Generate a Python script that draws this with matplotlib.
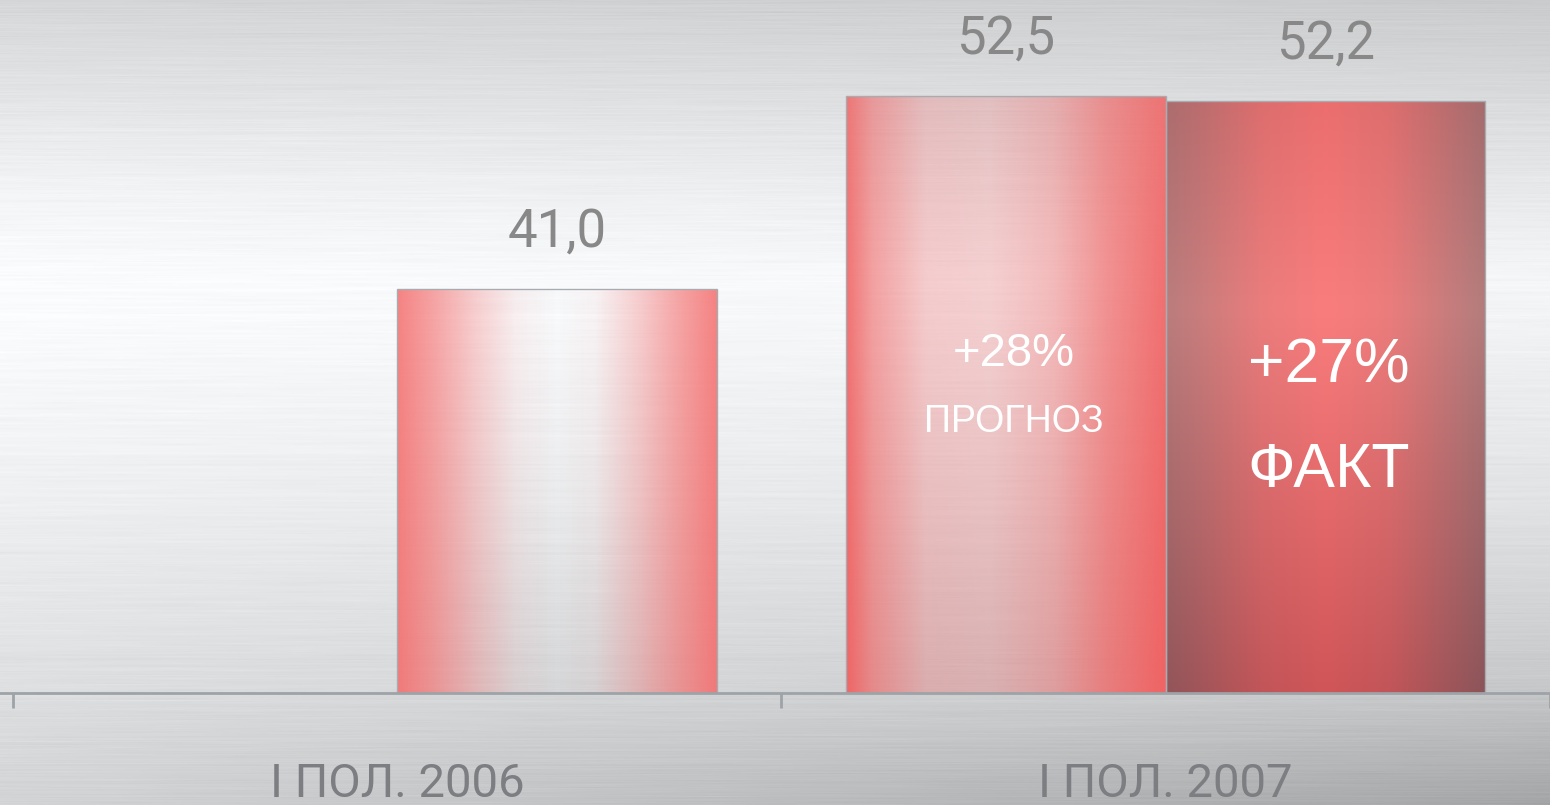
import numpy as np
import matplotlib
matplotlib.use("Agg")
import matplotlib.pyplot as plt

# данные
categories = ["I ПОЛ. 2006", "I ПОЛ. 2007"]
bar_cats = [0, 1, 1]
bar_slots = [1, 0, 1]          # 0 - левый слот, 1 - правый слот
bar_values = [41.0, 52.5, 52.2]
bar_labels = ["41,0", "52,5", "52,2"]
bar_styles = ["light", "forecast", "fact"]

W, H = 1550, 805
fig = plt.figure(figsize=(W / 100, H / 100), dpi=100)

# фон "шлифованный металл"
def profile(ys, keys, vals):
    return np.interp(ys, keys, vals)

ys = np.arange(H)
left = profile(ys, [0, 100, 200, 280, 350, 500, 690, 805], [215, 230, 246, 253, 251, 240, 224, 212])
right = profile(ys, [0, 120, 280, 500, 690, 805], [203, 222, 247, 227, 200, 165])
xs = np.linspace(0, 1, W)
base = left[:, None] * (1 - xs[None, :]) + right[:, None] * xs[None, :]
rng = np.random.default_rng(3)
coarse = rng.normal(0, 1, size=(H, W // 60 + 2))
streak = np.empty((H, W))
cx = np.linspace(0, coarse.shape[1] - 1, W)
for i in range(H):
    streak[i] = np.interp(cx, np.arange(coarse.shape[1]), coarse[i])
streak = 0.6 * streak + 0.4 * np.repeat(rng.normal(0, 1, size=(H, 1)), W, axis=1)
v = base + 2.6 * streak
bg = np.stack([v - 2, v - 0.5, v + 1], axis=-1)
bg = np.clip(bg, 0, 255) / 255.0

ax_bg = fig.add_axes([0, 0, 1, 1])
ax_bg.imshow(bg, aspect="auto", interpolation="bilinear")
ax_bg.axis("off")

# основная ось
base_px = H - 693
ax = fig.add_axes([0, base_px / H, 1, 693 / H])
ax.patch.set_alpha(0)
y0, y1 = 16.93, 16.93 + 693 / 16.78
x0, x1 = -0.5 - 13 / 772, 0.5 + (W - 785) / 772
slot_w = 0.416

def bar_rgba(style, nh=200, nw=200):
    u = np.linspace(0, 1, nw)
    t = np.linspace(0, 1, nh)[:, None]   # 0 - верх, 1 - низ
    img = np.zeros((nh, nw, 4))
    if style == "light":
        a = np.interp(u, [0, 0.12, 0.25, 0.37, 0.5, 0.62, 0.75, 0.88, 1],
                      [0.85, 0.6, 0.3, 0.08, 0.0, 0.05, 0.3, 0.6, 0.85])
        img[..., 0] = 245 / 255
        img[..., 1] = 110 / 255
        img[..., 2] = 110 / 255
        img[..., 3] = a[None, :] * (1 + 0.05 * t)
    elif style == "forecast":
        a = np.interp(u, [0, 0.08, 0.25, 0.45, 0.65, 0.82, 1],
                      [0.9, 0.6, 0.3, 0.27, 0.42, 0.7, 0.92])
        img[..., 0] = 240 / 255
        img[..., 1] = 100 / 255
        img[..., 2] = 100 / 255
        img[..., 3] = np.clip(a[None, :] * (0.95 + 0.15 * t), 0, 1)
    else:
        w = np.interp(u, [0, 0.1, 0.3, 0.5, 0.7, 0.9, 1],
                      [0.15, 0.35, 0.8, 1.0, 0.8, 0.3, 0.05])
        tt = t[:, 0]
        center = np.stack([np.interp(tt, [0, 0.35, 1], [236, 250, 208]),
                           np.interp(tt, [0, 0.35, 1], [110, 125, 85]),
                           np.interp(tt, [0, 0.35, 1], [110, 125, 88])], axis=-1)
        edge = np.stack([np.interp(tt, [0, 0.35, 1], [160, 175, 135]),
                         np.interp(tt, [0, 0.35, 1], [108, 125, 85]),
                         np.interp(tt, [0, 0.35, 1], [110, 125, 90])], axis=-1)
        rgb = edge[:, None, :] * (1 - w[None, :, None]) + center[:, None, :] * w[None, :, None]
        img[..., :3] = rgb / 255
        img[..., 3] = 1.0
    return img

for c, s, val, lab, st in zip(bar_cats, bar_slots, bar_values, bar_labels, bar_styles):
    xc = c + (s - 0.5) * slot_w
    rect = ax.bar(xc, val, width=slot_w, color="none", edgecolor="#a8acb0",
                  linewidth=1.0, zorder=3)[0]
    im = ax.imshow(bar_rgba(st), extent=[xc - slot_w / 2, xc + slot_w / 2, y0, val],
                   aspect="auto", interpolation="bilinear", zorder=2)
    im.set_clip_path(rect)
    ax.annotate(lab, (xc, val), xytext=(0, 41), textcoords="offset points",
                ha="center", va="center", fontsize=38, color="#888888",
                family="Roboto")

# подписи внутри столбцов
def inner(text, xc, px_from_top, size):
    ax.annotate(text, (xc, y1), xycoords="data", xytext=(0, -px_from_top),
                textcoords="offset pixels", ha="center", va="center",
                fontsize=size, color="white", family="Liberation Sans")

inner("+28%", 1 - slot_w / 2 + 0.01, 354, 34)
inner("ПРОГНОЗ", 1 - slot_w / 2 + 0.01, 422, 27)
inner("+27%", 1 + slot_w / 2 + 0.004, 366, 45)
inner("ФАКТ", 1 + slot_w / 2 + 0.004, 471, 45)

ax.set_xlim(x0, x1)
ax.set_ylim(y0, y1)
for side in ["top", "left", "right"]:
    ax.spines[side].set_visible(False)
ax.spines["bottom"].set_color("#9ea3a8")
ax.spines["bottom"].set_linewidth(2)
ax.spines["bottom"].set_zorder(4)
ax.set_yticks([])
ax.set_xticks([0, 1])
ax.set_xticklabels(categories, fontsize=34, color="#7c7e82", family="Roboto")
ax.tick_params(axis="x", which="major", length=0, pad=50)
ax.set_xticks([-0.5, 0.5, 1.5], minor=True)
ax.tick_params(axis="x", which="minor", length=11, width=2, color="#9ea3a8")

fig.savefig("out.png", dpi=100)
